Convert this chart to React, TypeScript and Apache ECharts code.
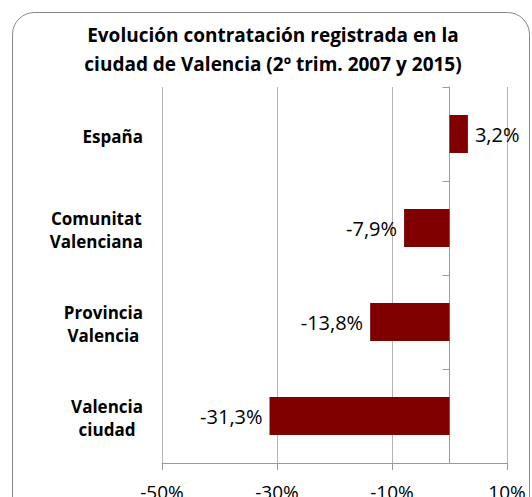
import React, { useEffect, useRef } from "react";
import * as echarts from "echarts";

const titleLines = [
  "Evolución contratación registrada en la",
  "ciudad de Valencia (2º trim. 2007 y 2015)",
];
const categories = ["España", "Comunitat\nValenciana", "Provincia\nValencia", "Valencia\nciudad"];
const values = [3.2, -7.9, -13.8, -31.3];
const xMin = -50;
const xMax = 10;
const xInterval = 20;

const FONT = "'Open Sans', sans-serif";
const BAR_COLOR = "#800000";

function fmt(v: number): string {
  return v.toFixed(1).replace(".", ",") + "%";
}

export default function App() {
  const ref = useRef<HTMLDivElement>(null);
  useEffect(() => {
    if (!ref.current) return;
    const chart = echarts.init(ref.current, null, { renderer: "svg" });
    chart.setOption({
      animation: false,
      backgroundColor: "#ffffff",
      textStyle: { fontFamily: FONT },
      title: {
        text: titleLines.join("\n"),
        left: 268,
        textAlign: "center",
        top: 15,
        textStyle: {
          fontFamily: FONT,
          fontSize: 19,
          fontWeight: "bold",
          color: "#000000",
          lineHeight: 29,
        },
      },
      graphic: [
        {
          type: "rect",
          shape: { x: 12.5, y: 12.5, width: 517, height: 520, r: 22 },
          style: { fill: "none", stroke: "#868686", lineWidth: 1 },
          silent: true,
        },
      ],
      grid: {
        left: 162,
        right: 25,
        top: 87,
        bottom: 34,
        containLabel: false,
        outerBoundsMode: "none",
      },
      xAxis: {
        type: "value",
        min: xMin,
        max: xMax,
        interval: xInterval,
        axisLine: { show: true, onZero: false, lineStyle: { color: "#9a9a9a", width: 1 } },
        axisTick: { show: true, length: 7, lineStyle: { color: "#9a9a9a" } },
        splitLine: { show: true, lineStyle: { color: "#b4b4b4", width: 1 } },
        axisLabel: {
          formatter: (v: number) => v + "%",
          fontFamily: FONT,
          fontSize: 19,
          color: "#000000",
          margin: 19,
        },
      },
      yAxis: [
        {
          type: "category",
          data: categories,
          inverse: true,
          position: "left",
          axisLine: { show: false, onZero: false },
          axisTick: { show: false },
          axisLabel: {
            align: "right",
            margin: 19,
            lineHeight: 23,
            padding: [4, 0, 0, 0],
            formatter: (v: string) =>
              v
                .split("\n")
                .map((l) => "{c|" + l + "}")
                .join("\n"),
            rich: {
              c: {
                align: "center",
                fontFamily: FONT,
                fontSize: 17,
                fontWeight: "bold",
                color: "#000000",
                lineHeight: 23,
              },
            },
          },
        },
        {
          type: "category",
          data: categories,
          inverse: true,
          position: "left",
          axisLine: { show: true, onZero: true, lineStyle: { color: "#9a9a9a", width: 1 } },
          axisTick: { show: true, length: 7, lineStyle: { color: "#9a9a9a" } },
          axisLabel: { show: false },
        },
      ],
      series: [
        {
          type: "bar",
          yAxisIndex: 0,
          barWidth: 38,
          itemStyle: { color: BAR_COLOR },
          data: values.map((v) => ({
            value: v,
            label: {
              show: true,
              position: v >= 0 ? "right" : "left",
              distance: 7,
              padding: [4, 0, 0, 0],
              formatter: () => fmt(v),
              fontFamily: FONT,
              fontSize: 20,
              color: "#000000",
            },
          })),
        },
      ],
    });
    return () => chart.dispose();
  }, []);
  return (
    <div
      ref={ref}
      style={{ position: "fixed", left: 0, top: 0, width: 532, height: 497 }}
    />
  );
}
